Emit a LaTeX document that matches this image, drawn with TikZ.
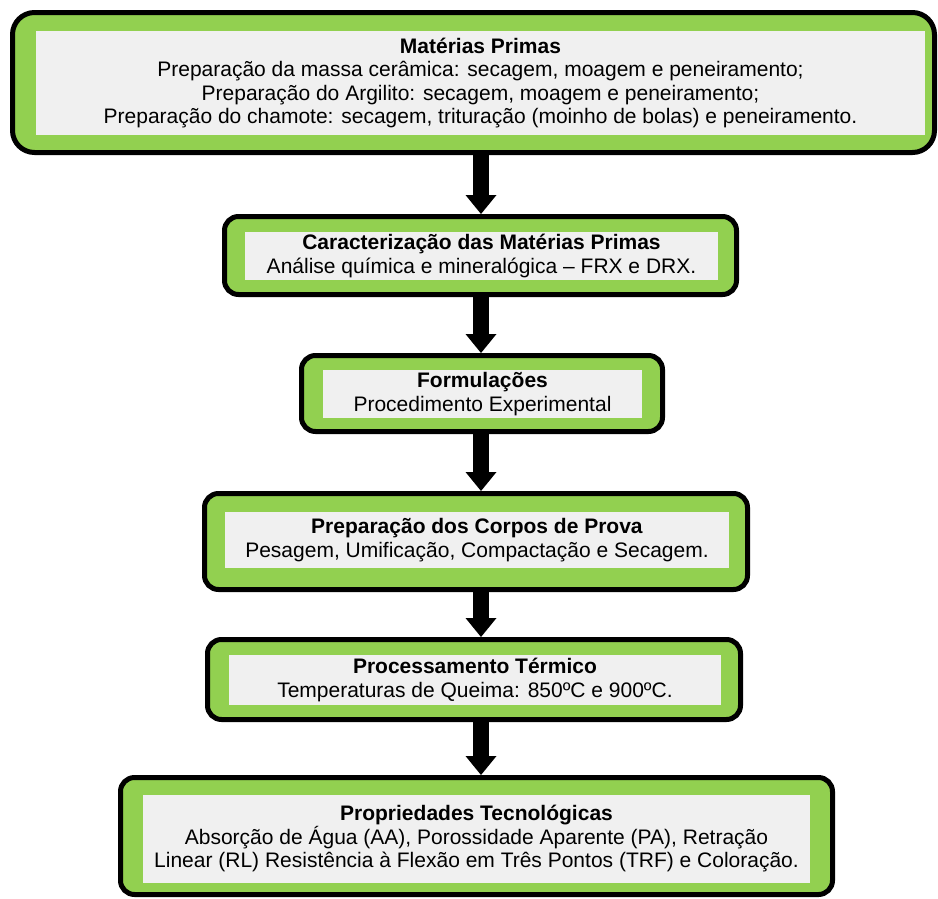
\documentclass[tikz,border=0pt]{standalone}
\usepackage{fontspec}
\setmainfont{Liberation Sans}
\usetikzlibrary{arrows.meta}

\definecolor{boxgreen}{HTML}{92D050}
\definecolor{panelgray}{HTML}{F0F0F0}

\begin{document}
\begin{tikzpicture}[x=1pt, y=-1pt, line join=round,
  frame/.style={draw=black, line width=5pt, fill=boxgreen, rounded corners=14pt, inner sep=0pt},
  panel/.style={fill=panelgray, inner sep=0pt, align=center, font=\fontsize{21}{23.5}\selectfont},
  blockarrow/.style={line width=16pt, -{Triangle[width=31pt, length=19pt, line width=0pt]}}]
  \useasboundingbox (0,0) rectangle (938,898);

  % Shared x position of the downward arrows
  \coordinate (axis) at (481,0);

  % Raw materials
  \node[frame, rounded corners=22pt, minimum width=922pt, minimum height=140pt] (mpframe) at (473.5,82.5) {};
  \node[panel, minimum width=889pt, minimum height=104pt] (mp) at (480.5,83)
    {\textbf{Matérias Primas}\\
     Preparação da massa cerâmica: secagem, moagem e peneiramento;\\
     Preparação do Argilito: secagem, moagem e peneiramento;\\
     Preparação do chamote: secagem, trituração (moinho de bolas) e peneiramento.};

  % Characterization
  \node[frame, minimum width=512pt, minimum height=78pt] (carframe) at (480.5,255.5) {};
  \node[panel, minimum width=473pt, minimum height=48pt] (car) at (481.5,256)
    {\textbf{Caracterização das Matérias Primas}\\
     Análise química e mineralógica – FRX e DRX.};

  % Formulations
  \node[frame, minimum width=361pt, minimum height=76pt] (forframe) at (482,393.5) {};
  \node[panel, minimum width=319pt, minimum height=48pt] (for) at (482.5,394)
    {\textbf{Formulações}\\
     Procedimento Experimental};

  % Test specimens
  \node[frame, minimum width=543pt, minimum height=96pt] (cpframe) at (476,541.5) {};
  \node[panel, minimum width=504pt, minimum height=56pt] (cp) at (477,540)
    {\textbf{Preparação dos Corpos de Prova}\\
     Pesagem, Umificação, Compactação e Secagem.};

  % Firing
  \node[frame, minimum width=533pt, minimum height=80pt] (ptframe) at (474,679.5) {};
  \node[panel, minimum width=492pt, minimum height=50pt] (pt) at (475,680)
    {\textbf{Processamento Térmico}\\
     Temperaturas de Queima: 850ºC e 900ºC.};

  % Technological properties
  \node[frame, minimum width=712pt, minimum height=117pt] (tecframe) at (476.5,836) {};
  \node[panel, minimum width=667pt, minimum height=88pt] (tec) at (476.5,839)
    {\textbf{Propriedades Tecnológicas}\\
     Absorção de Água (AA), Porossidade Aparente (PA), Retração\\
     Linear (RL) Resistência à Flexão em Três Pontos (TRF) e Coloração.};

  % Arrows between the stages
  \draw[blockarrow] (mpframe.south -| axis) -- (carframe.north -| axis);
  \draw[blockarrow] (carframe.south -| axis) -- (forframe.north -| axis);
  \draw[blockarrow] (forframe.south -| axis) -- (cpframe.north -| axis);
  \draw[blockarrow] (cpframe.south -| axis) -- (ptframe.north -| axis);
  \draw[blockarrow] (ptframe.south -| axis) -- (tecframe.north -| axis);
\end{tikzpicture}
\end{document}
